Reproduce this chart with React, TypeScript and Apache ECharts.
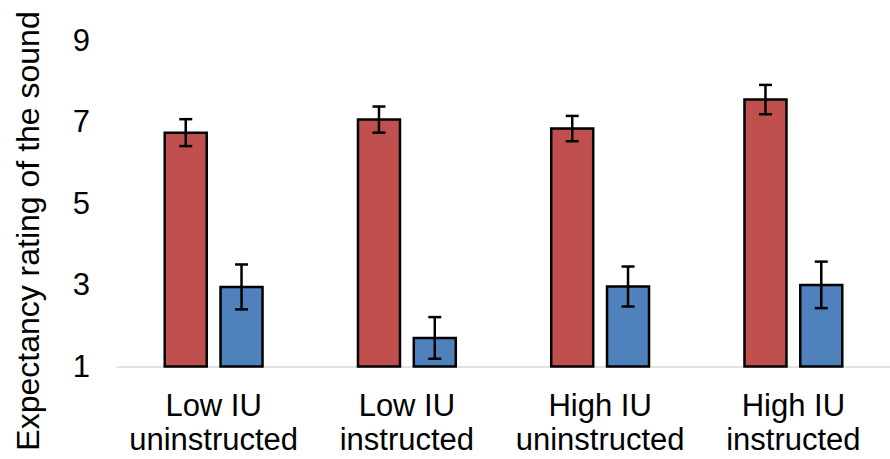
import React, { useEffect, useRef } from "react";
import * as echarts from "echarts";

const categories = [
  "Low IU\nuninstructed",
  "Low IU\ninstructed",
  "High IU\nuninstructed",
  "High IU\ninstructed",
];
const redMeans = [6.73, 7.05, 6.83, 7.54];
const redErrors = [0.33, 0.32, 0.31, 0.36];
const blueMeans = [2.95, 1.7, 2.96, 3.0];
const blueErrors = [0.55, 0.51, 0.49, 0.57];
const yTicks = { min: 1, max: 9, interval: 2 };
const yTitle = "Expectancy rating of the sound";

const BAR_W = 42;
const BAR_STEP = 55.8;
const FONT = '"Liberation Sans", Arial, sans-serif';

function barWithError(name: string, means: number[], errs: number[], offset: number, color: string) {
  return {
    name,
    type: "custom",
    z: 5,
    encode: { x: 0, y: 1 },
    data: means.map((m, i) => [i, m, errs[i]]),
    renderItem: (params: any, api: any) => {
      const idx = api.value(0);
      const m = api.value(1);
      const e = api.value(2);
      const topPt = api.coord([idx, m]);
      const basePt = api.coord([idx, yTicks.min]);
      const eTop = api.coord([idx, m + e]);
      const eBot = api.coord([idx, m - e]);
      const x = topPt[0] + offset;
      const cap = 6.5;
      const lineStyle = { stroke: "#000", lineWidth: 2.5 };
      return {
        type: "group",
        children: [
          {
            type: "rect",
            shape: { x: x - BAR_W / 2, y: topPt[1], width: BAR_W, height: basePt[1] - topPt[1] },
            style: { fill: color, stroke: "#000", lineWidth: 2.5 },
          },
          { type: "line", shape: { x1: x, y1: eTop[1], x2: x, y2: eBot[1] }, style: lineStyle },
          { type: "line", shape: { x1: x - cap, y1: eTop[1], x2: x + cap, y2: eTop[1] }, style: lineStyle },
          { type: "line", shape: { x1: x - cap, y1: eBot[1], x2: x + cap, y2: eBot[1] }, style: lineStyle },
        ],
      };
    },
  };
}

export default function App() {
  const ref = useRef<HTMLDivElement>(null);
  useEffect(() => {
    if (!ref.current) return;
    const chart = echarts.init(ref.current, undefined, { renderer: "svg" });
    chart.setOption({
      animation: false,
      backgroundColor: "#fff",
      grid: { left: 117, top: 40, width: 784, height: 326.5, containLabel: false },
      xAxis: {
        type: "category",
        data: categories,
        axisLine: { show: true, lineStyle: { color: "#d9d9d9", width: 1.5 } },
        axisTick: { show: false },
        axisLabel: {
          color: "#000",
          fontSize: 31,
          fontFamily: FONT,
          lineHeight: 34,
          margin: 22,
          interval: 0,
        },
      },
      yAxis: {
        type: "value",
        min: yTicks.min,
        max: yTicks.max,
        interval: yTicks.interval,
        axisLine: { show: false },
        axisTick: { show: false },
        splitLine: { show: false },
        axisLabel: { color: "#000", fontSize: 31, fontFamily: FONT, margin: 27 },
      },
      graphic: [
        {
          type: "text",
          x: 28,
          y: 231,
          rotation: Math.PI / 2,
          style: {
            text: yTitle,
            fontSize: 32,
            fontFamily: FONT,
            fill: "#000",
            align: "center",
            verticalAlign: "middle",
          },
        },
      ],
      series: [
        barWithError("Red", redMeans, redErrors, -BAR_STEP / 2, "#C0504D"),
        barWithError("Blue", blueMeans, blueErrors, BAR_STEP / 2, "#4F81BD"),
      ],
    });
    return () => chart.dispose();
  }, []);
  return (
    <div
      ref={ref}
      style={{ position: "fixed", left: 0, top: 0, width: 890, height: 459 }}
    />
  );
}
